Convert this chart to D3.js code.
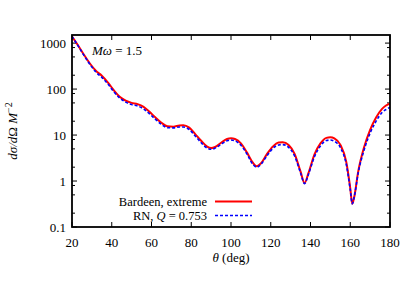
<!DOCTYPE html>
<html>
<head>
<meta charset="utf-8">
<script src="https://cdn.jsdelivr.net/npm/d3@7"></script>
<style>
  body { margin: 0; background: #fff; }
  svg text { font-family: 'Liberation Serif', 'DejaVu Serif', serif; fill: #000; }
</style>
</head>
<body>
<div id="chart"></div>
<script>
// scattering angle (deg)
const theta = [20, 23, 26, 29, 32, 35, 38, 41, 44, 47, 50, 53, 56, 59, 62, 65, 68, 71, 74, 76,
  79, 82, 85, 88, 90, 92, 95, 98, 100, 102, 105, 108, 111, 113, 115, 118, 121, 124, 126, 129,
  132, 135, 137, 139, 142, 145, 148, 150, 152, 155, 158, 160, 161, 162, 164, 167, 170, 173, 176, 178, 180];

// Bardeen, extreme
const bardeen = [1400, 900, 560, 360, 250, 195, 140, 95, 68, 56, 50, 47, 41, 32, 24, 18.5, 15.5, 15.2, 16.2, 16.4,
  14.5, 10.5, 7.5, 5.6, 5.2, 5.5, 6.8, 8.2, 8.5, 8.2, 6.6, 4.2, 2.5, 2.1, 2.4, 3.8, 5.6, 6.9, 7.0, 6.1,
  3.9, 1.6, 0.9, 1.5, 3.8, 6.6, 8.7, 9.0, 8.5, 6.2, 2.6, 0.7, 0.32, 0.45, 1.6, 5.5, 13, 24, 37, 44, 49];

// RN, Q = 0.753
const rn = [1400, 880, 540, 345, 235, 180, 130, 88, 64, 52, 46, 43, 37, 29, 22, 17, 14.5, 14.3, 15.0, 15.0,
  13.2, 9.5, 6.8, 5.2, 4.9, 5.2, 6.3, 7.5, 7.8, 7.5, 6.0, 3.9, 2.3, 2.0, 2.3, 3.5, 5.1, 6.1, 6.2, 5.4,
  3.5, 1.5, 0.88, 1.4, 3.4, 5.8, 7.6, 7.8, 7.3, 5.4, 2.3, 0.65, 0.32, 0.45, 1.5, 4.8, 11, 20, 31, 36, 40];

const xTicks = [20, 40, 60, 80, 100, 120, 140, 160, 180];
const yTicks = [0.1, 1, 10, 100, 1000];
const yTickLabels = ['0.1', '1', '10', '100', '1000'];
const yMinor = [0.2, 0.5, 0.8, 2, 5, 8, 20, 50, 80, 200, 500, 800];

const W = 415, H = 290;
const margin = { top: 35, right: 25, bottom: 63, left: 72 };
const width = W - margin.left - margin.right;
const height = H - margin.top - margin.bottom;
const FONT = "'Liberation Serif', 'DejaVu Serif', serif";

const svg = d3.select('#chart').append('svg')
    .attr('width', W)
    .attr('height', H)
    .attr('font-family', FONT);

const g = svg.append('g')
    .attr('transform', `translate(${margin.left},${margin.top})`);

const x = d3.scaleLinear().domain([20, 180]).range([0, width]);
const y = d3.scaleLog().domain([0.1, 1500]).range([height, 0]);

g.append('clipPath').attr('id', 'clip')
  .append('rect').attr('width', width).attr('height', height);

// ticks (inward, mirrored on all sides)
const ticks = g.append('g').attr('stroke', '#000').attr('stroke-width', 1);
xTicks.forEach(t => {
    ticks.append('line').attr('x1', x(t)).attr('x2', x(t)).attr('y1', height).attr('y2', height - 5);
    ticks.append('line').attr('x1', x(t)).attr('x2', x(t)).attr('y1', 0).attr('y2', 5);
});
yTicks.forEach(t => {
    ticks.append('line').attr('x1', 0).attr('x2', 5).attr('y1', y(t)).attr('y2', y(t));
    ticks.append('line').attr('x1', width).attr('x2', width - 5).attr('y1', y(t)).attr('y2', y(t));
});
yMinor.forEach(t => {
    ticks.append('line').attr('x1', 0).attr('x2', 3).attr('y1', y(t)).attr('y2', y(t));
    ticks.append('line').attr('x1', width).attr('x2', width - 3).attr('y1', y(t)).attr('y2', y(t));
});

// tick labels
g.selectAll('.xlab').data(xTicks).enter().append('text')
    .attr('x', d => x(d))
    .attr('y', height + 20)
    .attr('text-anchor', 'middle')
    .style('font-family', FONT)
    .style('font-size', '13px')
    .text(d => d);

g.selectAll('.ylab').data(yTicks).enter().append('text')
    .attr('x', -6)
    .attr('y', d => y(d) + 4.5)
    .attr('text-anchor', 'end')
    .style('font-family', FONT)
    .style('font-size', '13px')
    .text((d, i) => yTickLabels[i]);

// curves
const line = (vals) => d3.line()
    .x((d, i) => x(theta[i]))
    .y(d => y(d))
    .curve(d3.curveMonotoneX)(vals);

const plot = g.append('g').attr('clip-path', 'url(#clip)');
plot.append('path')
    .attr('d', line(bardeen))
    .attr('fill', 'none')
    .attr('stroke', '#ff0000')
    .attr('stroke-width', 2);
plot.append('path')
    .attr('d', line(rn))
    .attr('fill', 'none')
    .attr('stroke', '#0000ff')
    .attr('stroke-width', 1.6)
    .attr('stroke-dasharray', '3,2');

// frame
g.append('rect')
    .attr('width', width)
    .attr('height', height)
    .attr('fill', 'none')
    .attr('stroke', '#000')
    .attr('stroke-width', 1.8);

// annotation
g.append('text')
    .attr('x', 20)
    .attr('y', 20)
    .style('font-family', FONT)
    .style('font-size', '13px')
    .html('<tspan font-style="italic">Mω</tspan> = 1.5');

// legend
const legend = [
    { html: 'Bardeen, extreme', color: '#ff0000', dash: null, sw: 2 },
    { html: 'RN, <tspan font-style="italic">Q</tspan> = 0.753', color: '#0000ff', dash: '3,2', sw: 1.6 }
];
legend.forEach((d, i) => {
    const ly = 166.5 + i * 14;
    g.append('text')
        .attr('x', 135)
        .attr('y', ly + 4)
        .attr('text-anchor', 'end')
        .style('font-family', FONT)
        .style('font-size', '12.5px')
        .html(d.html);
    g.append('line')
        .attr('x1', 143).attr('x2', 180)
        .attr('y1', ly).attr('y2', ly)
        .attr('stroke', d.color)
        .attr('stroke-width', d.sw)
        .attr('stroke-dasharray', d.dash);
});

// axis titles
svg.append('text')
    .attr('x', margin.left + width / 2)
    .attr('y', 262)
    .attr('text-anchor', 'middle')
    .style('font-family', FONT)
    .style('font-size', '13px')
    .html('<tspan font-style="italic">θ</tspan> (deg)');

svg.append('text')
    .attr('transform', `translate(17,${margin.top + height / 2}) rotate(-90)`)
    .attr('text-anchor', 'middle')
    .style('font-family', FONT)
    .style('font-size', '13px')
    .html('<tspan font-style="italic">dσ/d</tspan>Ω <tspan font-style="italic">M</tspan><tspan dy="-5" font-size="10px">−2</tspan>');
</script>
</body>
</html>
